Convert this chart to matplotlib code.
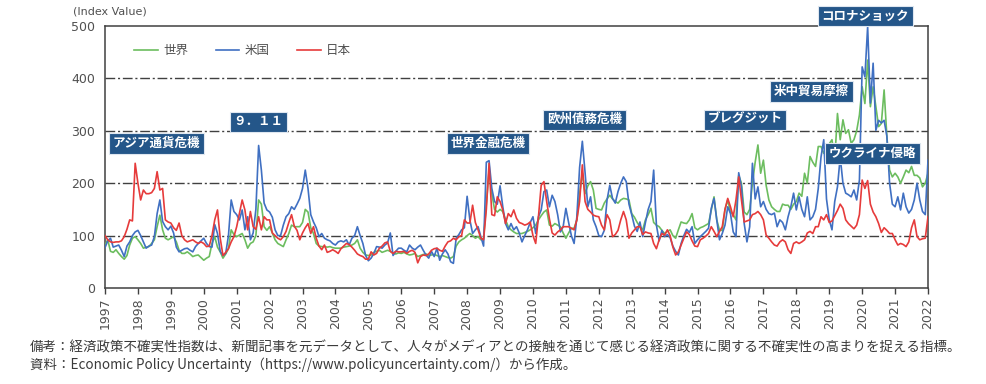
import matplotlib.pyplot as plt
import numpy as np

plt.rcParams['font.family'] = ['Noto Sans CJK JP', 'DejaVu Sans']

# monthly index values, Jan 1997 - Jan 2022
world = [
    82, 92, 70, 68, 73, 66, 60, 55, 62, 82, 95, 98,
    92, 85, 76, 78, 79, 85, 92, 117, 139, 111, 95, 92,
    95, 98, 88, 72, 66, 66, 69, 65, 60, 62, 63, 58,
    53, 57, 60, 85, 98, 78, 69, 57, 65, 75, 111, 102,
    98, 101, 104, 92, 76, 85, 88, 100, 168, 160, 117, 110,
    117, 105, 92, 85, 82, 79, 92, 104, 120, 117, 117, 117,
    125, 150, 145, 115, 104, 85, 80, 79, 79, 78, 79, 77,
    76, 76, 76, 78, 79, 80, 82, 85, 92, 76, 68, 63,
    62, 63, 68, 70, 72, 68, 70, 72, 70, 66, 65, 67,
    66, 68, 65, 63, 64, 66, 60, 62, 64, 65, 62, 63,
    64, 62, 60, 62, 60, 58, 57, 60, 80, 88, 92, 95,
    100, 104, 100, 95, 98, 92, 95, 160, 225, 180, 150, 145,
    150, 146, 130, 117, 111, 107, 104, 104, 104, 106, 108, 111,
    115, 120, 130, 138, 145, 149, 120, 118, 123, 120, 117, 105,
    95, 105, 114, 114, 130, 180, 219, 180, 195, 203, 187, 152,
    150, 149, 162, 170, 177, 170, 165, 162, 168, 171, 170, 168,
    142, 135, 125, 117, 111, 130, 140, 152, 125, 120, 117, 110,
    104, 108, 111, 100, 95, 111, 126, 124, 123, 130, 142, 115,
    111, 115, 117, 120, 123, 149, 174, 130, 110, 110, 150, 168,
    145, 140, 130, 215, 200, 145, 140, 150, 200, 240, 273, 219,
    244, 196, 168, 155, 150, 146, 146, 160, 158, 158, 150, 160,
    165, 181, 175, 219, 200, 251, 240, 232, 270, 270, 257, 270,
    275, 283, 244, 333, 283, 321, 295, 302, 276, 283, 300, 330,
    384, 352, 435, 346, 384, 346, 308, 314, 378, 290, 225, 212,
    219, 212, 200, 212, 225, 220, 232, 215, 215, 210, 193, 200,
    219,
]

us = [
    77, 90, 95, 78, 80, 82, 72, 60, 80, 88, 100, 107,
    110, 100, 88, 76, 80, 82, 98, 142, 168, 127, 117, 111,
    118, 105, 78, 69, 72, 75, 76, 72, 69, 79, 85, 90,
    95, 85, 79, 78, 121, 104, 70, 62, 66, 100, 168, 146,
    140, 130, 149, 111, 136, 92, 105, 150, 272, 225, 162, 149,
    145, 135, 111, 100, 100, 120, 136, 142, 155, 150, 160, 171,
    190, 225, 190, 140, 126, 115, 98, 104, 95, 92, 90, 85,
    82, 88, 90, 88, 92, 82, 95, 100, 117, 100, 85, 62,
    52, 57, 66, 79, 78, 76, 82, 86, 105, 62, 70, 76,
    76, 72, 69, 82, 76, 73, 78, 82, 72, 63, 57, 70,
    60, 76, 53, 65, 73, 65, 50, 47, 95, 102, 111, 115,
    175, 130, 104, 111, 117, 98, 80, 240, 243, 190, 165, 160,
    195, 155, 123, 111, 123, 111, 117, 105, 88, 100, 111, 125,
    136, 104, 136, 149, 184, 187, 155, 177, 165, 140, 107, 117,
    152, 125, 100, 85, 136, 230, 280, 220, 155, 174, 130, 117,
    100, 98, 110, 168, 196, 171, 162, 184, 200, 212, 203, 160,
    140, 118, 108, 126, 98, 125, 150, 165, 225, 120, 90, 110,
    98, 102, 96, 80, 70, 63, 85, 100, 112, 106, 117, 85,
    92, 98, 103, 108, 114, 152, 171, 130, 92, 104, 120, 155,
    142, 107, 98, 220, 193, 123, 88, 117, 238, 170, 193, 155,
    165, 150, 142, 140, 143, 117, 130, 125, 111, 136, 155, 181,
    149, 174, 150, 136, 174, 130, 136, 150, 190, 250, 283, 170,
    130, 111, 165, 193, 250, 200, 181, 178, 174, 187, 168, 206,
    422, 403, 499, 353, 429, 301, 320, 315, 320, 290, 200, 160,
    155, 174, 149, 181, 155, 143, 150, 168, 200, 168, 146, 140,
    244,
]

japan = [
    100, 92, 88, 87, 88, 88, 90, 98, 112, 130, 128, 238,
    200, 168, 187, 180, 180, 182, 190, 222, 187, 190, 130, 126,
    124, 115, 110, 124, 100, 92, 88, 90, 92, 88, 85, 88,
    85, 79, 80, 100, 130, 149, 95, 62, 68, 75, 88, 98,
    117, 142, 168, 149, 111, 146, 117, 112, 136, 111, 136, 130,
    130, 105, 100, 95, 92, 98, 108, 125, 140, 118, 110, 92,
    105, 115, 123, 104, 117, 95, 80, 73, 82, 68, 70, 73,
    70, 66, 75, 80, 85, 83, 78, 72, 65, 62, 60, 55,
    55, 69, 63, 66, 76, 80, 86, 88, 70, 66, 70, 69,
    69, 70, 66, 70, 72, 68, 48, 60, 63, 62, 65, 72,
    75, 76, 72, 70, 80, 88, 90, 95, 92, 98, 100, 130,
    124, 124, 158, 125, 111, 95, 92, 150, 238, 140, 138, 174,
    165, 149, 123, 142, 136, 149, 133, 125, 123, 120, 122, 126,
    100, 85, 136, 196, 203, 165, 132, 105, 101, 107, 111, 117,
    117, 117, 114, 111, 130, 165, 235, 165, 150, 145, 139, 137,
    136, 120, 111, 140, 130, 98, 102, 110, 130, 146, 130, 95,
    105, 111, 117, 117, 102, 107, 105, 104, 85, 75, 92, 104,
    101, 111, 100, 78, 63, 69, 82, 95, 107, 102, 90, 80,
    79, 92, 95, 99, 104, 117, 108, 98, 108, 117, 150, 171,
    155, 136, 168, 212, 168, 126, 128, 130, 140, 142, 146, 140,
    130, 101, 95, 88, 82, 80, 88, 92, 88, 73, 66, 85,
    88, 85, 88, 92, 105, 108, 104, 117, 117, 136, 130, 140,
    125, 128, 138, 148, 160, 152, 130, 123, 118, 113, 120, 140,
    206, 190, 205, 160, 145, 136, 123, 106, 115, 110, 104, 104,
    92, 82, 85, 83, 79, 88, 115, 130, 98, 92, 94, 95,
    136,
]

series_names = ['世界', '米国', '日本']
years = list(range(1997, 2023))

# event labels: (text, year, index value)
events = [
    ('アジア通貨危機', 1998.55, 276),
    ('９．１１', 2001.66, 317),
    ('世界金融危機', 2008.63, 276),
    ('欧州債務危機', 2011.57, 321),
    ('ブレグジット', 2016.44, 321),
    ('米中貿易摩擦', 2018.46, 375),
    ('コロナショック', 2020.09, 519),
    ('ウクライナ侵略', 2020.31, 257),
]

note1 = '備考：経済政策不確実性指数は、新聞記事を元データとして、人々がメディアとの接触を通じて感じる経済政策に関する不確実性の高まりを捉える指標。'
note2 = '資料：Economic Policy Uncertainty（https://www.policyuncertainty.com/）から作成。'

months = 1997 + np.arange(len(world)) / 12

fig = plt.figure(figsize=(9.86, 3.84), dpi=100)
ax = fig.add_axes([105/986, 96/384, 823/986, 262/384])

colors = ['#6cbd5f', '#4070c2', '#e63b3b']
for vals, name, c in zip([world, us, japan], series_names, colors):
    ax.plot(months, vals, color=c, lw=1.2, label=name, zorder=3)

ax.set_xlim(1997, 2022)
ax.set_ylim(0, 500)

for v in [100, 200, 300, 400]:
    ax.axhline(v, color='#404040', lw=1.0, dashes=(7, 2, 1.5, 2), zorder=1)

for s in ax.spines.values():
    s.set_color('#404040')
    s.set_linewidth(1.1)

ax.set_yticks(range(0, 501, 100))
ax.tick_params(axis='y', length=0, pad=7, labelsize=9, labelcolor='#505050')
ax.set_xticks(years)
ax.set_xticklabels([str(y) for y in years], rotation=90)
ax.tick_params(axis='x', length=4, width=1, color='#404040', direction='out',
               pad=3, labelsize=9, labelcolor='#505050')
for lab in ax.get_xticklabels() + ax.get_yticklabels():
    lab.set_family('DejaVu Sans')

leg = ax.legend(ncol=3, loc='center left', bbox_to_anchor=(0.028, 0.905),
                frameon=False, fontsize=9, handlelength=1.9, handletextpad=0.4,
                columnspacing=2.2, borderpad=0)
for t in leg.get_texts():
    t.set_color('#505050')

for txt, x, y in events:
    ax.text(x, y, txt, ha='center', va='center', color='white', fontsize=9,
            fontweight='bold', zorder=6, clip_on=False,
            bbox=dict(boxstyle='square,pad=0.3', fc='#245689', ec='#dfe7f0', lw=0.8))

fig.text(73/986, 1 - 12/384, '(Index Value)', fontsize=8, color='#505050',
         va='center', family='DejaVu Sans')
fig.text(30/986, 1 - 347/384, note1, fontsize=9.7, color='#3a3a3a', va='center')
fig.text(30/986, 1 - 365/384, note2, fontsize=9.7, color='#3a3a3a', va='center')

fig.savefig('out.png', dpi=100)
